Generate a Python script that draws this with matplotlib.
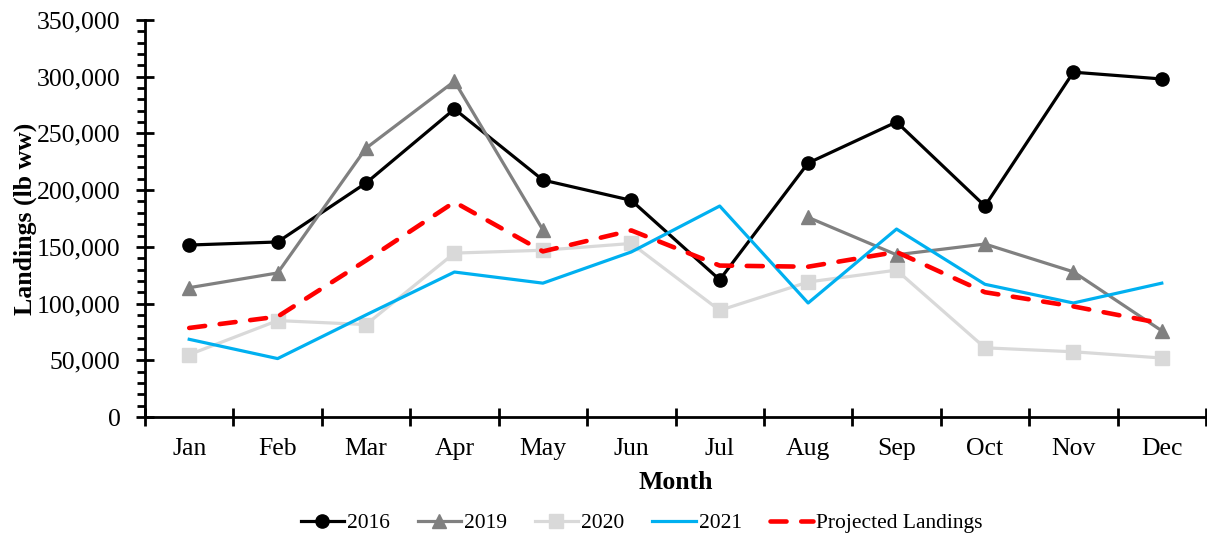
import numpy as np
import matplotlib.pyplot as plt
from matplotlib.ticker import MultipleLocator, FuncFormatter, FixedLocator

months = ['Jan', 'Feb', 'Mar', 'Apr', 'May', 'Jun',
          'Jul', 'Aug', 'Sep', 'Oct', 'Nov', 'Dec']

y2016 = [151600, 154300, 206300, 271500, 208900, 191000,
         121000, 223900, 260100, 186000, 304000, 298000]
y2019 = [114000, 127000, 237000, 296000, 165000, np.nan,
         np.nan, 176000, 143000, 152500, 128000, 76000]
y2020 = [55000, 85000, 81500, 144500, 147000, 153000,
         94000, 119000, 129500, 61000, 57500, 52000]
y2021 = [68500, 51500, 90000, 127800, 118000, 145500,
         186000, 100500, 165700, 117000, 100500, 118000]
projected = [78500, 88500, 138000, 189500, 146000, 164500,
             133500, 132500, 145500, 110000, 97500, 82500]

plt.rcParams['font.family'] = ['Liberation Serif', 'DejaVu Serif']
fs = 18.5

fig = plt.figure(figsize=(12.07, 5.37), dpi=100)
ax = fig.add_axes([145/1207, 1-417/537, 1061/1207, 397/537])

x = np.arange(len(months))
ax.plot(x, y2016, color='black', lw=2.3, marker='o', ms=9.5, label='2016', zorder=3)
ax.plot(x, y2019, color='#808080', lw=2.3, marker='^', ms=9.5, label='2019', zorder=3)
ax.plot(x, y2020, color='#d9d9d9', lw=2.3, marker='s', ms=9.5, label='2020', zorder=3)
ax.plot(x, y2021, color='#00b0f0', lw=2.3, label='2021', zorder=4)
ax.plot(x, projected, color='#ff0000', lw=3.3, ls=(0, (3.5, 3.2)),
        dash_capstyle='round', label='Projected Landings', zorder=5)

ax.set_xlim(-0.5, 11.5)
ax.set_ylim(0, 350000)

ax.set_xticks(x)
ax.set_xticklabels(months, fontsize=fs)
ax.xaxis.set_minor_locator(FixedLocator(np.arange(-0.5, 12, 1)))
ax.tick_params(axis='x', which='major', length=0, pad=15)
ax.tick_params(axis='x', which='minor', direction='inout', length=13, width=2)

ax.yaxis.set_major_locator(MultipleLocator(50000))
ax.yaxis.set_minor_locator(MultipleLocator(10000))
ax.yaxis.set_major_formatter(FuncFormatter(lambda v, p: f'{int(v):,}'))
ax.tick_params(axis='y', which='major', direction='inout', length=13, width=2,
               labelsize=fs, pad=11)
ax.tick_params(axis='y', which='minor', direction='out', length=6, width=2)

for s in ['top', 'right']:
    ax.spines[s].set_visible(False)
for s in ['left', 'bottom']:
    ax.spines[s].set_linewidth(2)

ax.set_xlabel('Month', fontsize=fs, fontweight='bold', labelpad=8)
ax.set_ylabel('Landings (lb ww)', fontsize=fs, fontweight='bold', labelpad=0)

fig.legend(loc='center', bbox_to_anchor=(0.5315, 0.026), ncol=5, frameon=False,
           fontsize=15.5, handlelength=2.0, handletextpad=0.15, columnspacing=1.3)

fig.savefig('out.png', dpi=100)
